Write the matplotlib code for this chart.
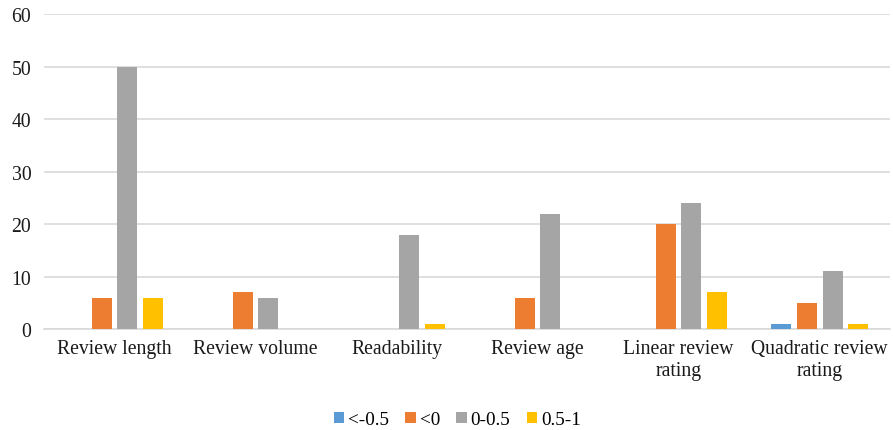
import matplotlib
matplotlib.use("Agg")
import matplotlib.pyplot as plt
import numpy as np

categories = ["Review length", "Review volume", "Readability", "Review age",
              "Linear review\nrating", "Quadratic review\nrating"]
series_names = ["<-0.5", "<0", "0-0.5", "0.5-1"]
v_lt_m05 = [0, 0, 0, 0, 0, 1]
v_lt_0 = [6, 7, 0, 6, 20, 5]
v_0_05 = [50, 6, 18, 22, 24, 11]
v_05_1 = [6, 0, 1, 0, 7, 1]
colors = ["#5B9BD5", "#ED7D31", "#A5A5A5", "#FFC000"]

plt.rcParams['font.family'] = ['Liberation Serif', 'DejaVu Serif']
fig = plt.figure(figsize=(8.93, 4.31), dpi=100)
ax = fig.add_axes([0.049, 0.234, 0.948, 0.731])

x = np.arange(len(categories))
step = 0.181
width = 0.142
all_series = [v_lt_m05, v_lt_0, v_0_05, v_05_1]
for i, (vals, name, c) in enumerate(zip(all_series, series_names, colors)):
    ax.bar(x + (i - 1.5) * step, vals, width, color=c, label=name,
           linewidth=0, zorder=3)

ax.set_xlim(-0.5, len(categories) - 0.5)
ax.set_ylim(0, 60)
ax.set_yticks(range(0, 61, 10))
ax.yaxis.grid(True, color='#D9D9D9', linewidth=1.2, zorder=0)
ax.set_axisbelow(True)
for s in ['top', 'right', 'left']:
    ax.spines[s].set_visible(False)
ax.spines['bottom'].set_color('#D9D9D9')
ax.spines['bottom'].set_linewidth(1.2)
ax.tick_params(axis='both', length=0, labelsize=14.2, colors='#1a1a1a')
ax.tick_params(axis='y', pad=9)
ax.tick_params(axis='x', pad=7)
ax.set_xticks(x)
ax.set_xticklabels(categories, linespacing=1.25)

fig.legend(loc='center', bbox_to_anchor=(0.512, 0.024), ncol=4, frameon=False,
           fontsize=13.8, handlelength=0.55, handleheight=0.55, handletextpad=0.2,
           columnspacing=0.85)

fig.savefig("out.png", dpi=100)
